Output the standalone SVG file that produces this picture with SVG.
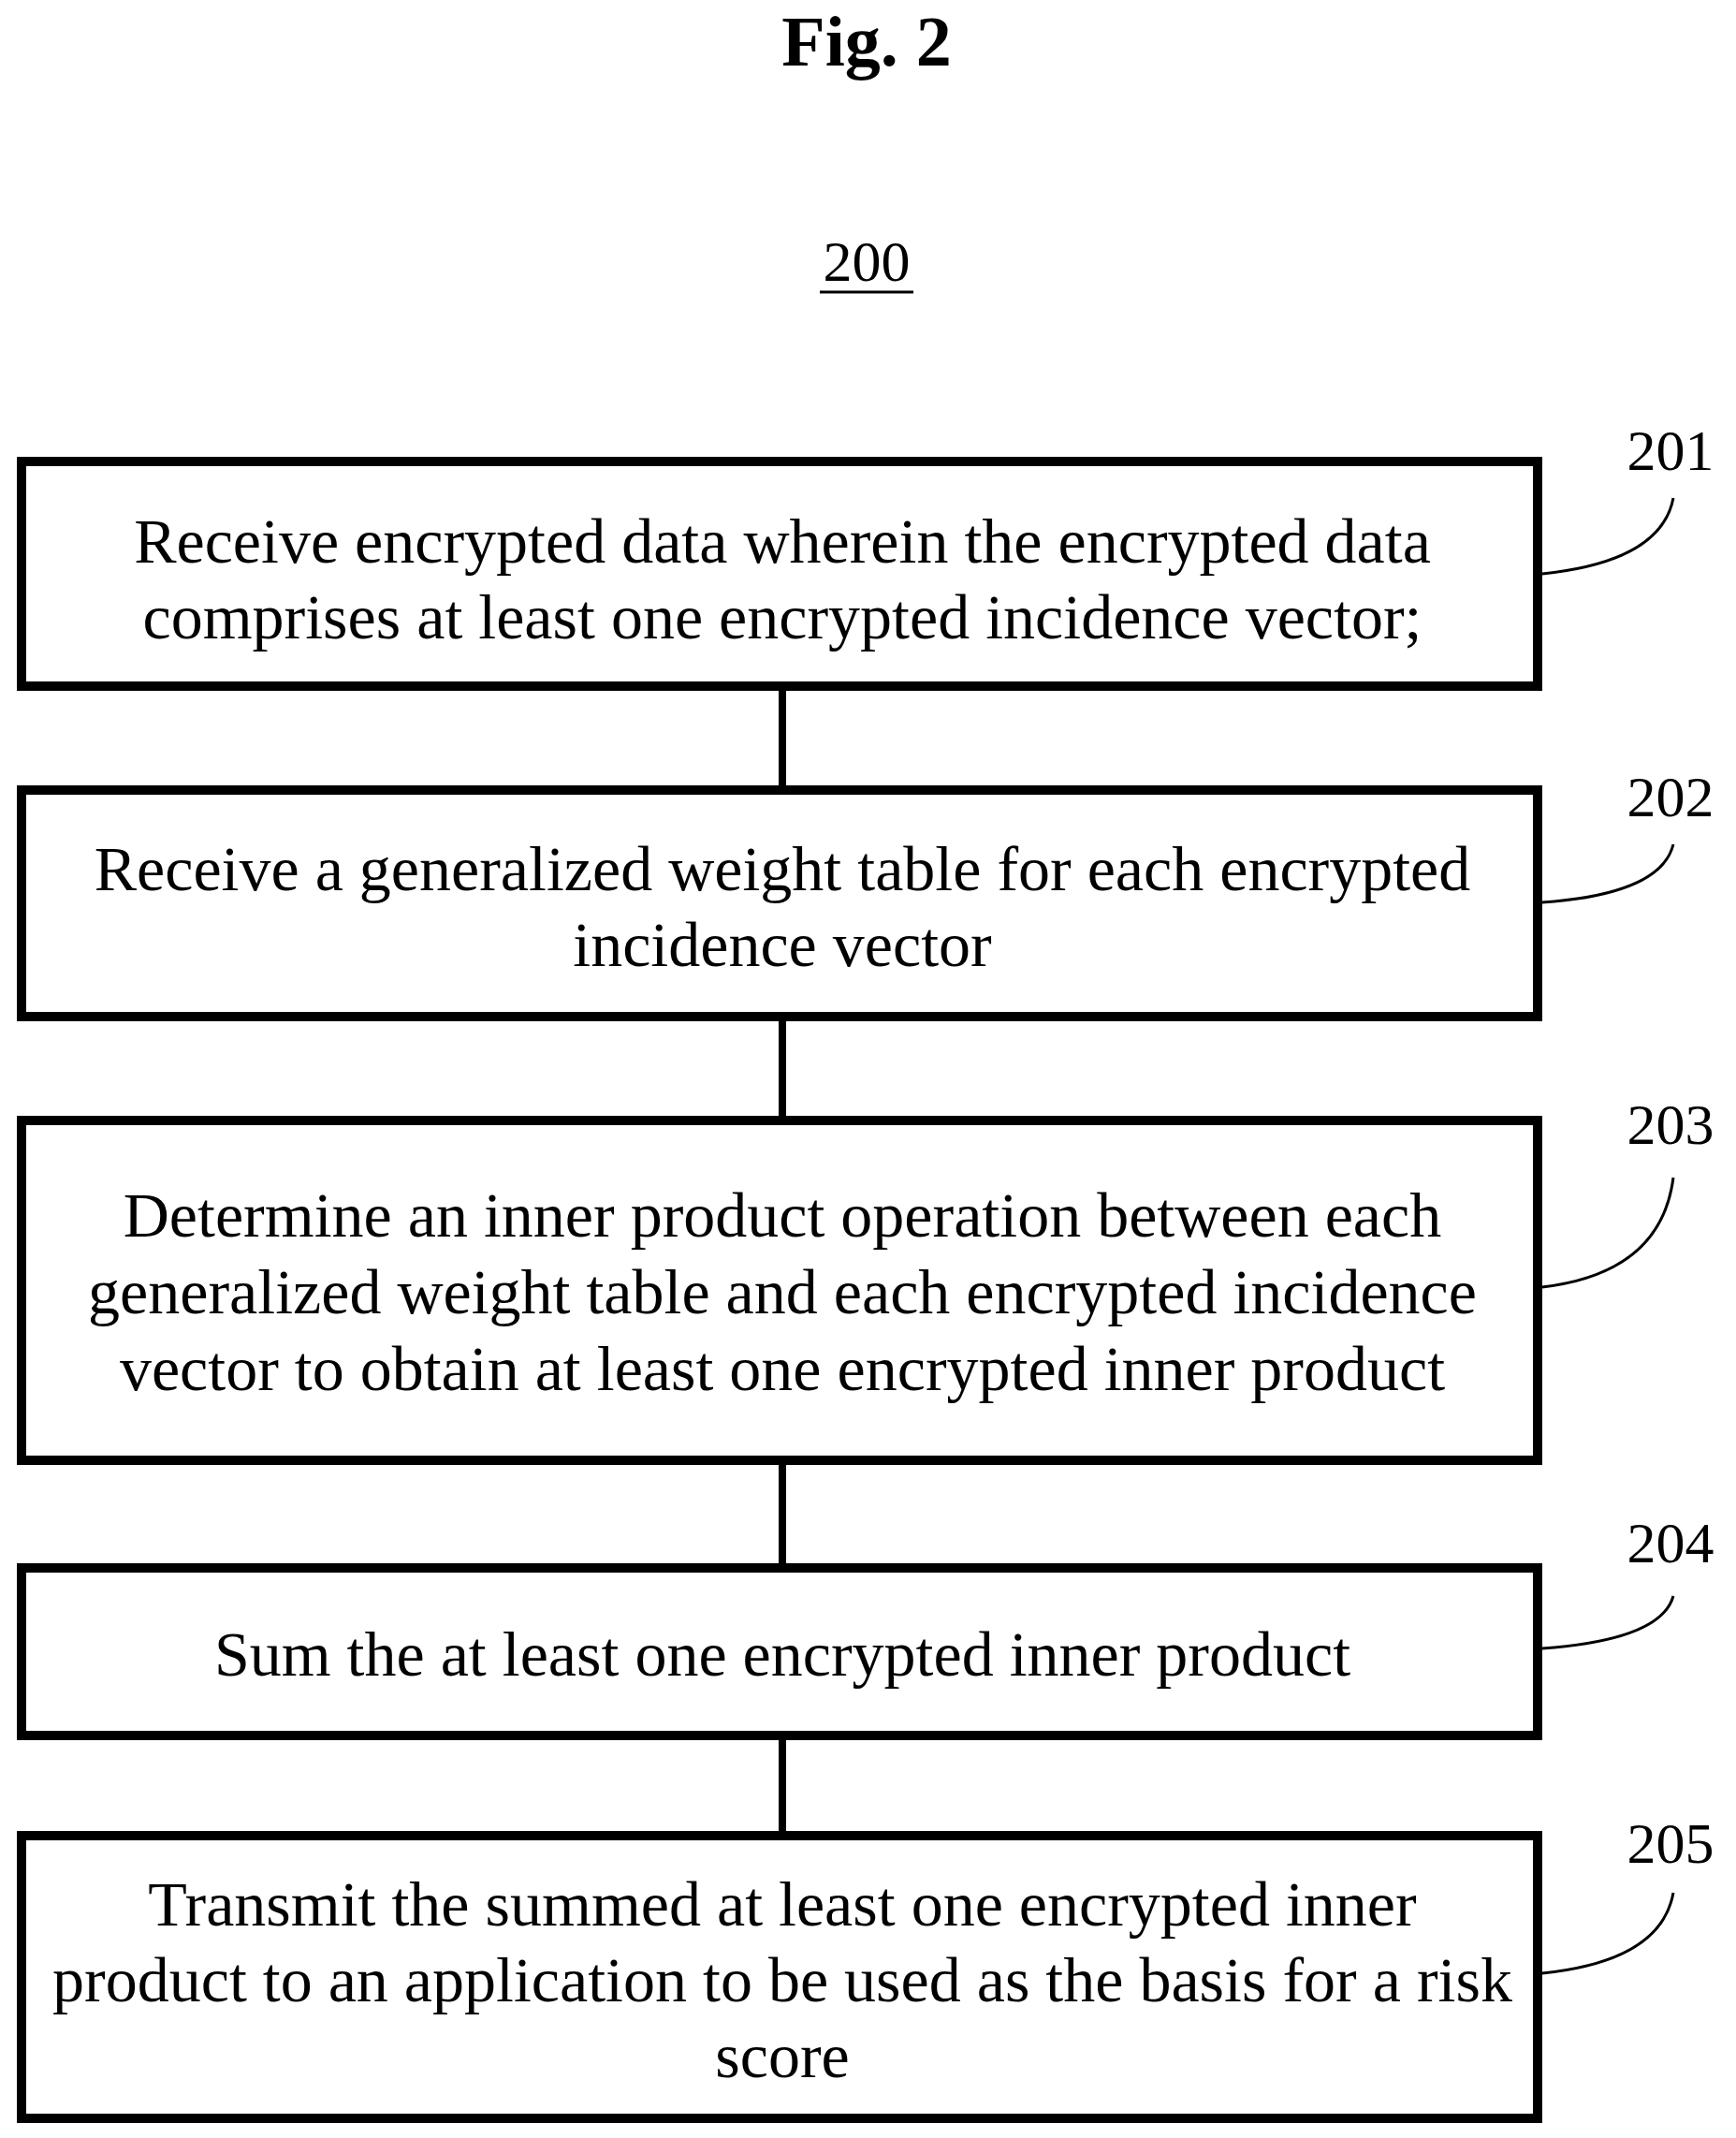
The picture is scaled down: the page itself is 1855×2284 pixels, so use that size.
<svg xmlns="http://www.w3.org/2000/svg" width="1855" height="2284" viewBox="0 0 1855 2284">
<style>
text{font-family:"Liberation Serif","Times New Roman",serif;fill:#000}
.t{font-size:68px;text-anchor:middle}
.l{font-size:62px;text-anchor:middle}
.b{fill:#fff;stroke:#000;stroke-width:10}
.c{stroke:#000;stroke-width:8;fill:none}
.ld{stroke:#000;stroke-width:3;fill:none}
</style>
<rect width="1855" height="2284" style="fill:#fff;stroke:none"/>
<text x="926" y="70" text-anchor="middle" font-size="76" font-weight="bold">Fig. 2</text>
<text x="926" y="300" class="l">200</text>
<line x1="876" y1="312" x2="976" y2="312" stroke="#000" stroke-width="3"/>
<g id="connectors">
<line class="c" x1="836" y1="738" x2="836" y2="839"/>
<line class="c" x1="836" y1="1091" x2="836" y2="1192"/>
<line class="c" x1="836" y1="1565" x2="836" y2="1670"/>
<line class="c" x1="836" y1="1859" x2="836" y2="1956"/>
<path class="ld" d="M1648 613 Q1775 600 1788 532"/>
<path class="ld" d="M1648 964 Q1775 955 1788 902"/>
<path class="ld" d="M1648 1375 Q1775 1360 1788 1258"/>
<path class="ld" d="M1648 1761 Q1775 1752 1788 1705"/>
<path class="ld" d="M1648 2108 Q1775 2095 1788 2022"/>
</g>
<g id="n201"><rect class="b" x="23" y="493" width="1620" height="240"/>
<text class="t" x="836" y="601">Receive encrypted data wherein the encrypted data</text>
<text class="t" x="836" y="682">comprises at least one encrypted incidence vector;</text>
<text class="l" x="1785" y="502">201</text></g>
<g id="n202"><rect class="b" x="23" y="844" width="1620" height="242"/>
<text class="t" x="836" y="951">Receive a generalized weight table for each encrypted</text>
<text class="t" x="836" y="1032">incidence vector</text>
<text class="l" x="1785" y="872">202</text></g>
<g id="n203"><rect class="b" x="23" y="1197" width="1620" height="363"/>
<text class="t" x="836" y="1321">Determine an inner product operation between each</text>
<text class="t" x="836" y="1403">generalized weight table and each encrypted incidence</text>
<text class="t" x="836" y="1485">vector to obtain at least one encrypted inner product</text>
<text class="l" x="1785" y="1222">203</text></g>
<g id="n204"><rect class="b" x="23" y="1675" width="1620" height="179"/>
<text class="t" x="836" y="1790">Sum the at least one encrypted inner product</text>
<text class="l" x="1785" y="1669">204</text></g>
<g id="n205"><rect class="b" x="23" y="1961" width="1620" height="302"/>
<text class="t" x="836" y="2057">Transmit the summed at least one encrypted inner</text>
<text class="t" x="836" y="2138">product to an application to be used as the basis for a risk</text>
<text class="t" x="836" y="2219">score</text>
<text class="l" x="1785" y="1990">205</text></g>
</svg>
